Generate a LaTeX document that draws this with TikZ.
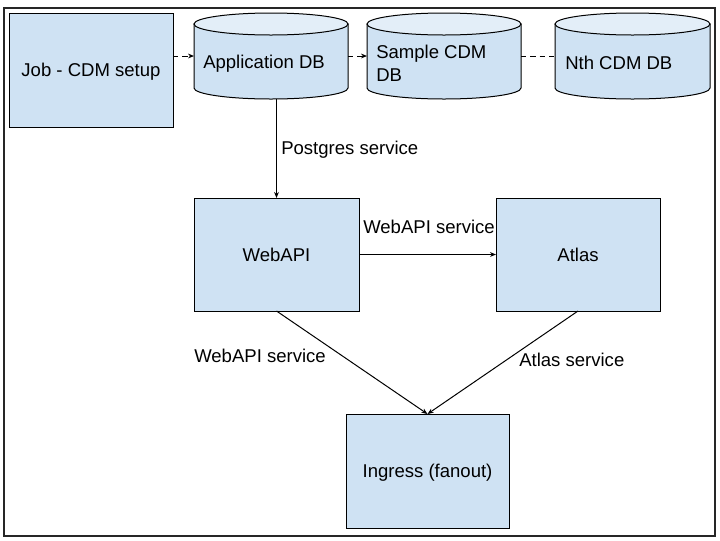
\documentclass[tikz,border=0pt]{standalone}
\usepackage{fontspec}
\setmainfont{Liberation Sans}
\usetikzlibrary{arrows.meta}
\definecolor{boxblue}{HTML}{CFE2F3}
\definecolor{topblue}{HTML}{E3EEF8}
\begin{document}
\begin{tikzpicture}[x=0.75pt,y=-0.75pt,
  every node/.style={font=\fontsize{13.9}{17.25}\selectfont},
  box/.style={draw=black, fill=boxblue, line width=0.75pt, inner sep=0pt, outer sep=0pt,
    text height=1.04em, text depth=0pt},
  dbarea/.style={inner sep=0pt, outer sep=0pt, minimum width=115.5pt, minimum height=64.5pt},
  dbbody/.style={draw=black, fill=boxblue, line width=0.75pt},
  dbtop/.style={draw=black, fill=topblue, line width=0.75pt},
  lbl/.style={inner sep=0pt, anchor=base west},
  conn/.style={draw=black, line width=0.75pt},
  tip/.style={-{Stealth[length=4.5pt,width=3.6pt]}},
  dashconn/.style={conn, dash pattern=on 4pt off 3pt}
]
\useasboundingbox (0,0) rectangle (720,540);
% outer frame
\draw[black!85, line width=1.6pt] (4,8) rectangle (715,536);

% job box
\node[box, minimum width=123pt, minimum height=85.5pt] (job) at (91,70) {Job - CDM setup};

% databases (cylinders)
\node[dbarea] (appdb) at (271,56) {};
\node[dbarea] (sampledb) at (444,56) {};
\node[dbarea, minimum width=116.25pt] (nthdb) at (632.5,56) {};

% Application DB cylinder
\path[dbbody] (194,24) -- (194,88) arc[start angle=180, end angle=0, x radius=77, y radius=11] -- (348,24) -- cycle;
\path[dbtop] (271,24) ellipse[x radius=77, y radius=11];
% Sample CDM DB cylinder
\path[dbbody] (367,24) -- (367,88) arc[start angle=180, end angle=0, x radius=77, y radius=11] -- (521,24) -- cycle;
\path[dbtop] (444,24) ellipse[x radius=77, y radius=11];
% Nth CDM DB cylinder
\path[dbbody] (555,24) -- (555,88) arc[start angle=180, end angle=0, x radius=77.5, y radius=11] -- (710,24) -- cycle;
\path[dbtop] (632.5,24) ellipse[x radius=77.5, y radius=11];

\node[lbl] (appdbl) at (203,68) {Application DB};
\node[inner sep=0pt, anchor=north west, align=left] (sampledbl) at (376,44.3) {Sample CDM\\DB};
\node[lbl] (nthdbl) at (565,69) {Nth CDM DB};

% service boxes
\node[box, minimum width=123.75pt, minimum height=84.75pt] (webapi) at (276.5,254.5) {WebAPI};
\node[box, minimum width=123pt, minimum height=84.75pt] (atlas) at (578,254.5) {Atlas};
\node[box, minimum width=122.25pt, minimum height=85.5pt] (ingress) at (427.5,471) {Ingress (fanout)};

% connectors
\coordinate (row) at (0,56);
\draw[dashconn, tip] (job.east |- row) -- (appdb.west |- row);
\draw[dashconn, tip] (appdb.east |- row) -- (sampledb.west |- row);
\draw[dashconn] (sampledb.east |- row) -- (nthdb.west |- row);
\coordinate (dbbottom) at (0,99);
\draw[conn, tip] (webapi.north |- dbbottom) -- (webapi.north);
\draw[conn, tip] (webapi.east) -- (atlas.west);
\draw[conn, tip] (webapi.south) -- (ingress.north);
\draw[conn, tip] (atlas.south) -- (ingress.north);

% connector labels
\node[lbl] (lpg) at (281,154) {Postgres service};
\node[lbl] (lwa1) at (363,233) {WebAPI service};
\node[lbl] (lwa2) at (194,362) {WebAPI service};
\node[lbl] (lat) at (519,366) {Atlas service};
\end{tikzpicture}
\end{document}
